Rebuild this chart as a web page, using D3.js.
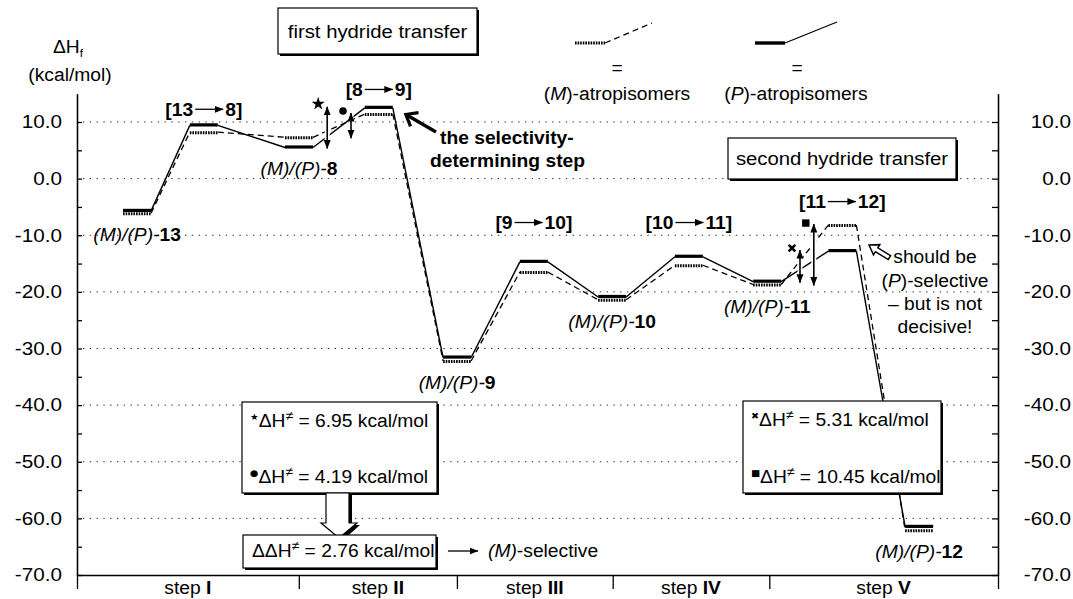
<!DOCTYPE html>
<html><head><meta charset="utf-8">
<script src="https://cdn.jsdelivr.net/npm/d3@7"></script>
<style>
body{margin:0;background:#fff;}
svg{font-family:"Liberation Sans",Arial,Helvetica,sans-serif;}
</style></head><body>
<svg id="c" width="1073" height="599"></svg>
<script>
// ---------------- data ----------------
const stationaryPoints = ["13","TS13-8","8","TS8-9","9","TS9-10","10","TS10-11","11","TS11-12","12"];
const pointCoord = [0.60, 1.47, 2.71, 3.75, 4.77, 5.77, 6.79, 7.79, 8.81, 9.79, 10.79];
const energyP = [-5.7, 9.4, 5.5, 12.5, -31.6, -14.7, -20.9, -13.8, -18.2, -12.8, -61.5];
const energyM = [-6.1, 8.2, 7.3, 11.4, -32.2, -16.5, -21.4, -15.3, -18.7, -8.2, -62.1];
const yMajorTicks = [-70, -60, -50, -40, -30, -20, -10, 0, 10];
const yMinorTicks = [-65, -55, -45, -35, -25, -15, -5, 5];
const gridValues = [-60, -50, -40, -30, -20, -10, 0, 10];
const stepBounds = [0, 2.89, 4.95, 6.98, 9.02, 12];
const stepNames = ["I", "II", "III", "IV", "V"];
const tsIndex = [1, 3, 5, 7, 9];
const tsFrom = ["13", "8", "9", "10", "11"];
const tsTo = ["8", "9", "10", "11", "12"];
const tsLabelValue = [11.1, 14.6, -8.9, -8.9, -5.2];
const minIndex = [0, 2, 4, 6, 8, 10];
const minNames = ["13", "8", "9", "10", "11", "12"];
const barrierCoord = [3.26, 3.57, 9.42, 9.60];
const barrierSeries = ["P", "M", "P", "M"];
const barrierFrom = [2, 2, 8, 8];
const barrierTo = [3, 3, 9, 9];
const barrierSymbol = ["star", "circle", "x", "square"];
const barrierValue = [6.95, 4.19, 5.31, 10.45];
const ddH = 2.76;

// ---------------- setup ----------------
const SX = 1.07, FS = 18;
const svg = d3.select("#c");
const x = d3.scaleLinear().domain([0, 12]).range([77, 998]);
const y = d3.scaleLinear().domain([-70, 15]).range([575, 575 - 85 * 5.6625]);
const W = 0.365;
const series = {P: energyP, M: energyM};

function txt(parent, px, py, parts, anchor, size) {
  const g = parent.append("g").attr("transform", `translate(${px},${py}) scale(${SX},1)`);
  const t = g.append("text").attr("text-anchor", anchor || "start").attr("font-size", size || FS).attr("fill", "#000");
  parts.forEach(p => {
    if (typeof p === "string") p = {t: p};
    const ts = t.append("tspan").text(p.t);
    if (p.i) ts.attr("font-style", "italic");
    if (p.b) ts.attr("font-weight", "bold");
    if (p.dy) ts.attr("dy", p.dy);
    if (p.s) ts.attr("font-size", p.s);
    if (p.f) ts.attr("font-family", p.f);
  });
  return t;
}

const defs = svg.append("defs");
defs.append("marker").attr("id", "ah").attr("viewBox", "0 -4 9 8").attr("refX", 8.5).attr("refY", 0)
  .attr("markerWidth", 9).attr("markerHeight", 8).attr("markerUnits", "userSpaceOnUse")
  .attr("orient", "auto-start-reverse")
  .append("path").attr("d", "M0,-3.5L9,0L0,3.5Z").attr("fill", "#000");

// ---------------- grid ----------------
svg.append("g").selectAll("line").data(gridValues).join("line")
  .attr("x1", x(0) + 6).attr("x2", x(12) - 6)
  .attr("y1", d => y(d)).attr("y2", d => y(d))
  .attr("stroke", "#222").attr("stroke-width", 1).attr("stroke-dasharray", "1.3,5.5");

// ---------------- axes ----------------
function styleAxis(g) {
  g.selectAll("path,line").attr("stroke", "#000").attr("stroke-width", 1.3);
  g.selectAll("text").attr("font-size", FS).attr("font-family", "Liberation Sans, Arial, sans-serif").attr("fill", "#000");
}
const fmt = d => d.toFixed(1);
const gl = svg.append("g").attr("transform", `translate(${x(0)},0)`)
  .call(d3.axisLeft(y).tickValues(yMajorTicks).tickFormat(fmt).tickSizeInner(-5).tickSizeOuter(0).tickPadding(15));
styleAxis(gl);
gl.selectAll("text").attr("x", -15 / 1.15).attr("transform", `scale(1.15,1)`);
const glm = svg.append("g").attr("transform", `translate(${x(0)},0)`)
  .call(d3.axisLeft(y).tickValues(yMinorTicks).tickFormat("").tickSizeInner(-5).tickSizeOuter(0));
styleAxis(glm);

const gr = svg.append("g").attr("transform", `translate(${x(12)},0)`)
  .call(d3.axisRight(y).tickValues(yMajorTicks).tickFormat(fmt).tickSizeInner(-6).tickSizeOuter(0).tickPadding(12));
styleAxis(gr);
gr.selectAll("text").attr("text-anchor", "end").attr("x", 73 / 1.15).attr("transform", `scale(1.15,1)`);
const grm = svg.append("g").attr("transform", `translate(${x(12)},0)`)
  .call(d3.axisRight(y).tickValues(yMinorTicks).tickFormat("").tickSizeInner(-6).tickSizeOuter(0));
styleAxis(grm);

const gb = svg.append("g").attr("transform", `translate(0,${y(-70)})`)
  .call(d3.axisBottom(x).tickValues(stepBounds).tickFormat("").tickSize(14).tickSizeOuter(0));
styleAxis(gb);

stepNames.forEach((s, i) => {
  const cx = x((stepBounds[i] + stepBounds[i + 1]) / 2);
  txt(svg, cx, 594, ["step ", {t: s, b: true}], "middle", FS);
});

// axis title
txt(svg, 68, 53, ["ΔH", {t: "f", s: 11, dy: 4}], "middle", FS);
txt(svg, 70, 81, ["(kcal/mol)"], "middle", FS);

// ---------------- profile ----------------
const lineGen = d3.line().x(d => x(d[0])).y(d => y(d[1]));
function connectors(vals) {
  const segs = [];
  for (let i = 0; i < vals.length - 1; i++) segs.push([[pointCoord[i] + W, vals[i]], [pointCoord[i + 1], vals[i + 1]]]);
  return segs;
}
svg.append("g").selectAll("path").data(connectors(energyM)).join("path")
  .attr("d", lineGen).attr("fill", "none").attr("stroke", "#000").attr("stroke-width", 1.3).attr("stroke-dasharray", "6,4");
svg.append("g").selectAll("path").data(connectors(energyP)).join("path")
  .attr("d", lineGen).attr("fill", "none").attr("stroke", "#000").attr("stroke-width", 1.4);

svg.append("g").selectAll("line").data(energyM).join("line")
  .attr("x1", (d, i) => x(pointCoord[i])).attr("x2", (d, i) => x(pointCoord[i] + W))
  .attr("y1", d => y(d) + 0.5).attr("y2", d => y(d) + 0.5)
  .attr("stroke", "#000").attr("stroke-width", 3).attr("stroke-dasharray", "1.6,1");
svg.append("g").selectAll("line").data(energyP).join("line")
  .attr("x1", (d, i) => x(pointCoord[i])).attr("x2", (d, i) => x(pointCoord[i] + W))
  .attr("y1", d => y(d) - 0.5).attr("y2", d => y(d) - 0.5)
  .attr("stroke", "#000").attr("stroke-width", 3.2);

// ---------------- barrier arrows ----------------
barrierCoord.forEach((c, k) => {
  const v = series[barrierSeries[k]];
  const ax = x(c), y1 = y(v[barrierFrom[k]]), y2 = y(v[barrierTo[k]]);
  svg.append("line").attr("x1", ax).attr("x2", ax).attr("y1", y1).attr("y2", y2)
    .attr("stroke", "#fff").attr("stroke-width", 5);
  svg.append("line").attr("x1", ax).attr("x2", ax).attr("y1", y1 + 1).attr("y2", y2 - 1)
    .attr("stroke", "#000").attr("stroke-width", 1.6)
    .attr("marker-start", "url(#ah)").attr("marker-end", "url(#ah)");
  const sx = ax - 8, sy = y2 - 3;
  const sym = barrierSymbol[k];
  if (sym === "star") svg.append("path").attr("d", d3.symbol(d3.symbolStar, 55)()).attr("transform", `translate(${sx - 1},${sy - 1})`).attr("fill", "#000");
  if (sym === "circle") svg.append("path").attr("d", d3.symbol(d3.symbolCircle, 45)()).attr("transform", `translate(${sx},${sy})`).attr("fill", "#000");
  if (sym === "x") svg.append("path").attr("d", d3.symbol(d3.symbolX, 30)()).attr("transform", `translate(${sx},${sy})`).attr("fill", "none").attr("stroke", "#000").attr("stroke-width", 2.6);
  if (sym === "square") svg.append("path").attr("d", d3.symbol(d3.symbolSquare, 55)()).attr("transform", `translate(${sx},${sy + 1})`).attr("fill", "#000");
});

// ---------------- labels ----------------
tsIndex.forEach((idx, k) => {
  const cx = x(pointCoord[idx] + W / 2), by = y(tsLabelValue[k]);
  const g = svg.append("g");
  const t1 = txt(g, 0, by, [{t: "[" + tsFrom[k], b: true}], "start", FS);
  const t2 = txt(g, 0, by, [{t: tsTo[k] + "]", b: true}], "start", FS);
  const w1 = t1.node().getComputedTextLength() * SX, w2 = t2.node().getComputedTextLength() * SX;
  const aL = 28, gap = 2;
  const total = w1 + gap + aL + gap + w2;
  const s0 = cx - total / 2;
  d3.select(t1.node().parentNode).attr("transform", `translate(${s0},${by}) scale(${SX},1)`);
  d3.select(t2.node().parentNode).attr("transform", `translate(${s0 + w1 + 2 * gap + aL},${by}) scale(${SX},1)`);
  g.append("line").attr("x1", s0 + w1 + gap).attr("x2", s0 + w1 + gap + aL).attr("y1", by - 6.5).attr("y2", by - 6.5)
    .attr("stroke", "#000").attr("stroke-width", 1.3).attr("marker-end", "url(#ah)");
});

minIndex.forEach((idx, k) => {
  const cx = x(pointCoord[idx] + W / 2);
  const by = y(Math.min(energyP[idx], energyM[idx])) + 28;
  txt(svg, cx, by, [{t: "(M)/(P)-", i: true}, {t: minNames[k], b: true}], "middle", FS);
});

// ---------------- boxes ----------------
function box(x0, y0, w, h) {
  svg.append("rect").attr("x", x0 + 2).attr("y", y0 + 2).attr("width", w).attr("height", h).attr("fill", "#000");
  svg.append("rect").attr("x", x0).attr("y", y0).attr("width", w).attr("height", h).attr("fill", "#fff").attr("stroke", "#000").attr("stroke-width", 1.2);
}
box(278, 8, 199, 46);
txt(svg, 377.5, 38, ["first hydride transfer"], "middle", 19);
box(728, 138, 228, 41);
txt(svg, 842, 165, ["second hydride transfer"], "middle", 19);

// legend
svg.append("line").attr("x1", 575).attr("x2", 605).attr("y1", 43).attr("y2", 43)
  .attr("stroke", "#000").attr("stroke-width", 3).attr("stroke-dasharray", "1.6,1");
svg.append("line").attr("x1", 605).attr("x2", 652).attr("y1", 43).attr("y2", 23)
  .attr("stroke", "#000").attr("stroke-width", 1.3).attr("stroke-dasharray", "6,4");
svg.append("line").attr("x1", 755).attr("x2", 785).attr("y1", 43).attr("y2", 43)
  .attr("stroke", "#000").attr("stroke-width", 3.4);
svg.append("line").attr("x1", 785).attr("x2", 837).attr("y1", 43).attr("y2", 22)
  .attr("stroke", "#000").attr("stroke-width", 1.3);
txt(svg, 617, 74, ["="], "middle", FS);
txt(svg, 797, 74, ["="], "middle", FS);
txt(svg, 617, 100, ["(", {t: "M", i: true}, ")-atropisomers"], "middle", FS);
txt(svg, 796, 100, ["(", {t: "P", i: true}, ")-atropisomers"], "middle", FS);

// selectivity-determining note
function chevronArrow(tipX, tipY, tailX, tailY) {
  const ang = Math.atan2(tailY - tipY, tailX - tipX) * 180 / Math.PI;
  const len = Math.hypot(tailX - tipX, tailY - tipY);
  const g = svg.append("g").attr("transform", `translate(${tipX},${tipY}) rotate(${ang})`);
  g.append("line").attr("x1", 2).attr("x2", len).attr("y1", 0).attr("y2", 0).attr("stroke", "#000").attr("stroke-width", 3.2);
  g.append("path").attr("d", "M11,-8L1,0L11,8").attr("fill", "none").attr("stroke", "#000").attr("stroke-width", 3.2).attr("stroke-linejoin", "miter");
}
chevronArrow(405, 114, 436, 132);
txt(svg, 440, 144, [{t: "the selectivity-", b: true}], "start", FS);
txt(svg, 430, 167, [{t: "determining step", b: true}], "start", FS);

// hollow arrow near "should be"
(function () {
  const tipX = 869, tipY = 245, tailX = 890, tailY = 258;
  const ang = Math.atan2(tailY - tipY, tailX - tipX) * 180 / Math.PI;
  svg.append("path").attr("d", "M0,0L9,-6L9,-2.3L24,-2.3L24,2.3L9,2.3L9,6Z")
    .attr("transform", `translate(${tipX},${tipY}) rotate(${ang})`)
    .attr("fill", "#fff").attr("stroke", "#000").attr("stroke-width", 1.5).attr("stroke-linejoin", "miter");
})();
txt(svg, 935, 263, ["should be"], "middle", FS);
txt(svg, 935, 287, ["(", {t: "P", i: true}, ")-selective"], "middle", FS);
txt(svg, 935, 310, ["– but is not"], "middle", FS);
txt(svg, 935, 333, ["decisive!"], "middle", FS);

// barrier boxes
const SYM = {star: "★", circle: "●", x: "✖", square: "■"};
function dHline(px, py, k) {
  txt(svg, px, py, [{t: SYM[barrierSymbol[k]], f: "DejaVu Sans", s: 9, dy: -7}, {t: "ΔH", dy: 7},
    {t: "≠", s: 13, dy: -7}, {t: " = " + barrierValue[k].toFixed(2) + " kcal/mol", dy: 7}], "start", FS);
}
box(242, 402, 195, 91);
dHline(250, 427, 0);
dHline(250, 483, 1);
box(743, 401, 198, 92);
dHline(751, 426, 2);
dHline(751, 483, 3);

// hollow down arrow
svg.append("path").attr("d", "M329,495L352,495L352,525L360,525L342,541L324,525L329,525Z").attr("fill", "#000");
svg.append("path").attr("d", "M326,493L349,493L349,523L357,523L339,538L321,523L326,523Z")
  .attr("fill", "#fff").attr("stroke", "#000").attr("stroke-width", 1.2);

box(243, 535, 193, 33);
txt(svg, 252, 557, ["ΔΔH", {t: "≠", s: 13, dy: -7}, {t: " = " + ddH.toFixed(2) + " kcal/mol", dy: 7}], "start", FS);
svg.append("line").attr("x1", 448).attr("x2", 478).attr("y1", 551).attr("y2", 551)
  .attr("stroke", "#000").attr("stroke-width", 1.3).attr("marker-end", "url(#ah)");
txt(svg, 488, 557, [{t: "(M)", i: true}, "-selective"], "start", FS);
</script>
</body></html>
